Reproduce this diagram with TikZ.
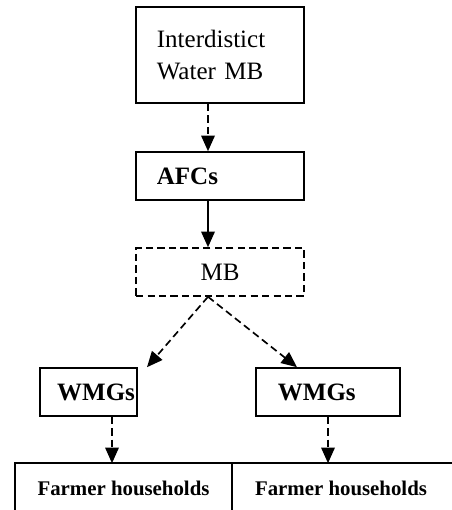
\documentclass[tikz,border=0pt]{standalone}
\usepackage{fontspec}
\setmainfont{Liberation Serif}
\usetikzlibrary{arrows.meta,calc}

\begin{document}
\begin{tikzpicture}[x=0.48pt,y=-0.48pt,>={Triangle[length=7.5pt,width=6.5pt]},line width=0.8pt]
	\tikzstyle{box}=[draw,line width=0.8pt,inner ysep=0pt,font=\fontsize{12}{15}\selectfont]
	\tikzstyle{dbox}=[box,dash pattern=on 3.5pt off 2pt]
	\tikzstyle{darrow}=[->,dash pattern=on 3.5pt off 2pt]
	\tikzstyle{cell}=[inner sep=0pt,font=\bfseries\fontsize{10}{12}\selectfont]

	\useasboundingbox (0,0) rectangle (451,510);

	\node (interMB) [box, inner xsep=10pt, text width=60.6pt, align=left, minimum height=46.1pt] at (220,55) {Interdistict\\Water MB};
	\node (afc) [box, inner xsep=10pt, text width=60.6pt, align=left, minimum height=23pt] at (220,176) {\textbf{AFCs}};
	\node (mb) [dbox, minimum width=80.6pt, minimum height=23pt] at (220,272) {MB};

	\node (wmgL) [box, inner xsep=1pt, text width=44.6pt, align=right, minimum height=23pt] at (88.5,392) {\textbf{WMGs}};
	\node (wmgR) [box, inner xsep=10.5pt, text width=48.1pt, align=left, minimum height=23pt] at (328,392) {\textbf{WMGs}};

	\node (farmL) [cell, minimum width=103.2pt, minimum height=23pt] at (123.5,488) {Farmer households};
	\node (farmR) [cell, minimum width=105.6pt, minimum height=23pt] at (341,488) {Farmer households};

	% table lines
	\draw (farmL.south west) -- (farmL.north west) -- (farmR.north east);
	\draw (farmL.north east) -- (farmL.south east);

	% arrows
	\draw [darrow] ($(interMB.south)+(-12,0)$) -- ($(afc.north)+(-12,0)$);
	\draw [->] ($(afc.south)+(-12,0)$) -- ($(mb.north)+(-12,0)$);
	\coordinate (mbTip) at ($(mb.south)+(-12,0)$);
	\draw [darrow] (mbTip) -- ($(wmgL.north)+(58.5,0)$);
	\draw [darrow] (mbTip) -- ($(wmgR.north)+(-31,0)$);
	\coordinate (wLout) at ($(wmgL.south)+(23.5,0)$);
	\draw [darrow] (wLout) -- (wLout |- farmL.north);
	\draw [darrow] (wmgR.south) -- (wmgR.south |- farmR.north);
\end{tikzpicture}
\end{document}
